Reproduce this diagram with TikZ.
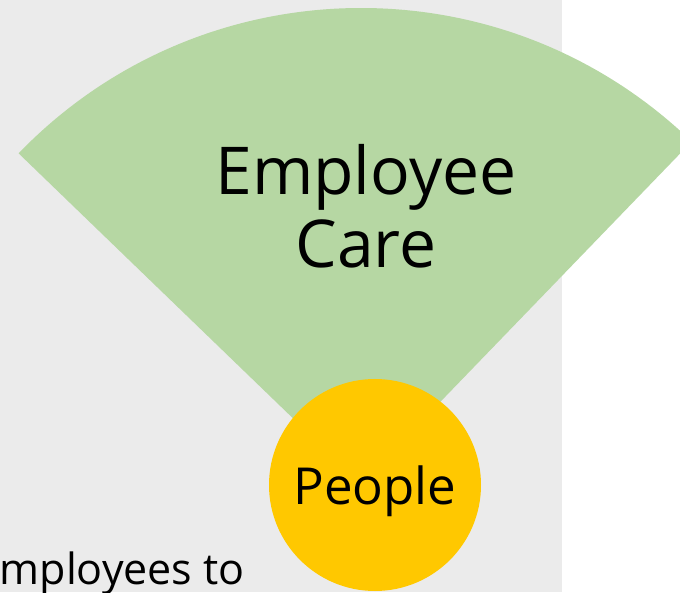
\documentclass[tikz,border=0pt]{standalone}
\usepackage{fontspec}
\setmainfont{Open Sans}
\usetikzlibrary{positioning}
\definecolor{carebg}{RGB}{235,235,235}
\definecolor{caregreen}{RGB}{182,215,163}
\definecolor{peopleyellow}{RGB}{255,200,0}
\tikzset{%
  fan/.style = {fill=caregreen},
  hub/.style = {circle, fill=peopleyellow, minimum size=212pt, inner sep=0pt,
                text depth=0pt, font=\fontsize{51}{60}\selectfont},
  title/.style = {align=center, font=\fontsize{66}{73}\selectfont},
  note/.style = {anchor=base east, inner sep=0pt, font=\fontsize{43}{50}\selectfont}
}

\begin{document}
\begin{tikzpicture}[x=1pt,y=1pt]
    \useasboundingbox (0,0) rectangle (680,592);
    \clip (0,0) rectangle (680,592);
    \fill[carebg] (0,0) rectangle (562,592);

    \coordinate (apex) at (361,108);
    \fill[fan] (apex) -- ++(46:476) arc[start angle=46, end angle=136, radius=476] -- cycle;

    \node (care)   [title] at (366,386) {Employee\\Care};
    \node (people) [hub]   at (375,107) {People};
    \node (note)   [note]  at (245,8)   {mployees to};
\end{tikzpicture}
\end{document}
